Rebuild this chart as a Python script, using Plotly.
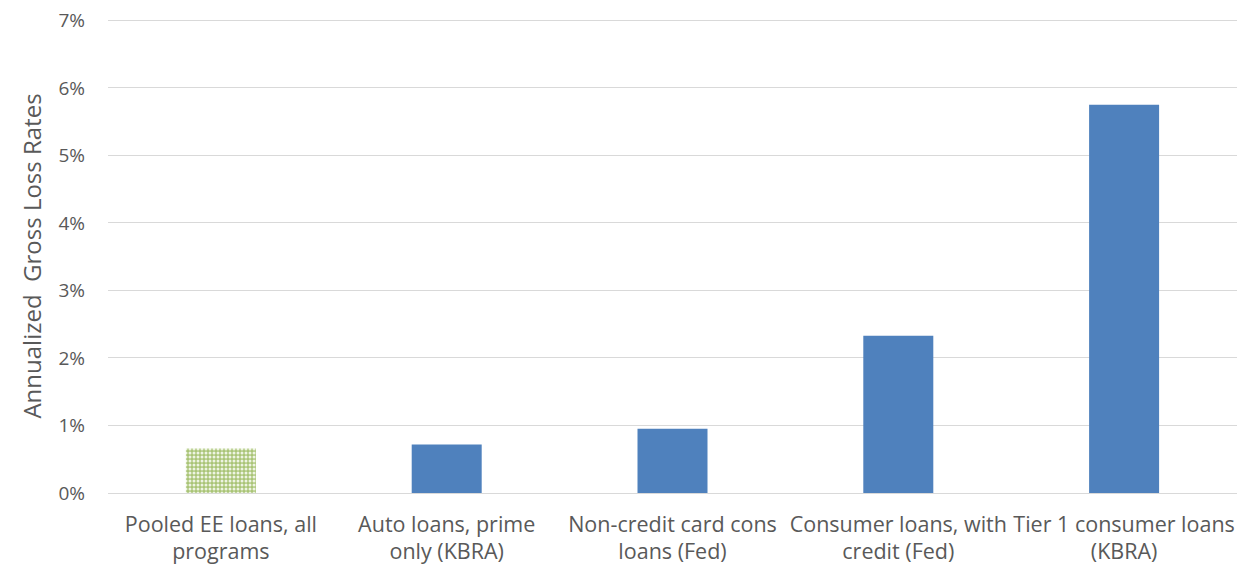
import plotly.graph_objects as go

categories = [
    "Pooled EE loans, all<br>programs",
    "Auto loans, prime<br>only (KBRA)",
    "Non-credit card cons<br>loans (Fed)",
    "Consumer loans, with<br>credit (Fed)",
    "Tier 1 consumer loans<br>(KBRA)",
]
values = [0.66, 0.72, 0.95, 2.33, 5.75]
y_ticks = [0, 1, 2, 3, 4, 5, 6, 7]
y_tick_labels = ["0%", "1%", "2%", "3%", "4%", "5%", "6%", "7%"]

fig = go.Figure()
fig.add_trace(go.Bar(
    x=categories[:1], y=values[:1],
    marker=dict(color="#c2d69c", line=dict(width=0),
                pattern=dict(shape=".", fgcolor="#eef4e2", bgcolor="#a9c476",
                             size=4, solidity=0.45, fillmode="replace")),
    showlegend=False,
))
fig.add_trace(go.Bar(
    x=categories[1:], y=values[1:],
    marker=dict(color="#4f81bd", line=dict(width=0)),
    showlegend=False,
))

font = "Open Sans, Liberation Sans, sans-serif"
fig.update_layout(
    width=1248, height=567,
    margin=dict(l=100, r=19, t=11, b=82),
    plot_bgcolor="white", paper_bgcolor="white",
    bargap=0.69,
    font=dict(family=font, size=19, color="#595959"),
)
fig.update_xaxes(
    categoryorder="array", categoryarray=categories,
    showgrid=False, showline=False, ticks="",
    tickfont=dict(size=21.5, color="#595959"),
    ticklabelstandoff=16,
    ticklabeloverflow="allow",
    automargin=False,
)
fig.update_yaxes(
    range=[0, 7.02], tickvals=y_ticks, ticktext=y_tick_labels,
    showgrid=True, gridcolor="#d9d9d9", gridwidth=1,
    zeroline=True, zerolinecolor="#d9d9d9", zerolinewidth=1,
    showline=False, ticks="",
    tickfont=dict(size=19, color="#595959"),
    ticklabelstandoff=22,
    ticklabeloverflow="allow",
    automargin=False,
    title=dict(text="Annualized  Gross Loss Rates", font=dict(size=24, color="#595959"), standoff=10),
)

fig.write_html("out.html")
